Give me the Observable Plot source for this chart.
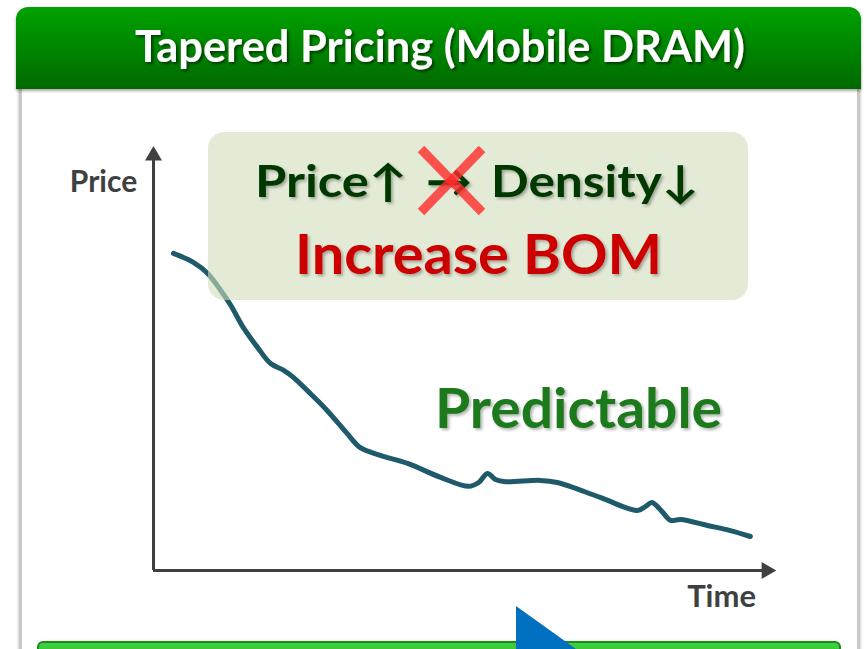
<!DOCTYPE html>
<html><head><meta charset="utf-8">
<script src="https://cdn.jsdelivr.net/npm/d3@7"></script>
<script src="https://cdn.jsdelivr.net/npm/@observablehq/plot@0.6"></script>
<style>
body{margin:0;width:866px;height:649px;overflow:hidden;background:#fff;position:relative;font-family:Lato,"Open Sans",sans-serif}
.abs{position:absolute}
#panel{left:19px;top:60px;width:835px;height:620px;border:3px solid #c9c9c9;border-radius:6px;background:#fff;box-shadow:0 0 3px rgba(0,0,0,.35)}
#header{left:16px;top:7px;width:845px;height:82px;border-radius:12px 12px 0 0;background:linear-gradient(#00a200,#006900);box-shadow:0 2px 3px rgba(0,0,0,.35)}
#bottombar{left:37px;top:641px;width:800px;height:30px;border:2px solid #1a8a1a;border-radius:6px;background:linear-gradient(#40d040,#20b020)}
#chart{left:0;top:0}
#overlay{left:0;top:0}
</style></head>
<body>
<div id="panel" class="abs"></div>
<div id="header" class="abs"></div>
<div id="bottombar" class="abs"></div>
<div id="chart" class="abs"></div>
<svg id="overlay" class="abs" width="866" height="649"></svg>
<script>
// Data (time index, relative price)
const time  = [3.2, 6.4, 8.7, 10.8, 12.4, 14.4, 16.7, 18.8, 20.9, 22.5, 25.2, 27.9, 31.1, 33.2, 36.4, 40.8, 46.1, 50.6, 52.2, 53.6, 54.9, 56.5, 62.1, 64.8, 71.7, 77.7, 79.0, 80.0, 81.5, 83.0, 84.6, 88.9, 92.6, 95.8];
const price = [74.6, 72.5, 69.9, 65.9, 62.4, 57.2, 52.5, 48.7, 47.1, 45.4, 41.6, 37.6, 32.2, 28.9, 27.1, 25.2, 21.9, 19.8, 20.7, 22.8, 21.4, 20.9, 21.2, 20.7, 17.2, 14.1, 15.1, 16.0, 14.1, 11.8, 12.0, 10.6, 9.4, 8.0];
const axisLabels = ["Price", "Time"];
const titleText = "Tapered Pricing (Mobile DRAM)";
const boxLine1 = ["Price↑", "→", "Density↓"];
const boxLine2 = "Increase BOM";
const noteText = "Predictable";

const series = time.map((t, i) => ({t, p: price[i]}));
const axisEnds = [{t: 98.4, p: 0, rot: 90}, {t: 0, p: 97.6, rot: 0}];

const chart = Plot.plot({
  width: 866, height: 649, margin: 0,
  x: {domain: [0, 100], range: [153, 776], axis: null},
  y: {domain: [0, 100], range: [570, 145], axis: null},
  style: {background: "transparent"},
  marks: [
    Plot.ruleY([0], {x1: 0, x2: 98, stroke: "#404040", strokeWidth: 3}),
    Plot.ruleX([0], {y1: 0, y2: 97, stroke: "#404040", strokeWidth: 3}),
    Plot.dot(axisEnds, {x: "t", y: "p", symbol: "triangle", r: 6.3, rotate: "rot", fill: "#404040", stroke: "none"}),
    Plot.line(series, {x: "t", y: "p", curve: "catmull-rom", stroke: "#1e5a6a", strokeWidth: 5}),
    Plot.text([axisLabels[0]], {x: 0, y: 97.6, dx: -50, dy: 27, text: d => d, fontSize: 30, fontWeight: "bold", fill: "#404040", fontFamily: "Lato"}),
    Plot.text([axisLabels[1]], {x: 97.6, y: 0, dx: -40, dy: 27, text: d => d, fontSize: 31, fontWeight: "bold", fill: "#404040", fontFamily: "Lato"})
  ]
});
document.getElementById("chart").appendChild(chart);

const svg = d3.select("#overlay");
const defs = svg.append("defs");
const f = defs.append("filter").attr("id", "sh").attr("x", "-10%").attr("y", "-30%").attr("width", "130%").attr("height", "170%");
f.append("feDropShadow").attr("dx", 2).attr("dy", 2).attr("stdDeviation", 1.5).attr("flood-color", "#000").attr("flood-opacity", 0.3);
const f2 = defs.append("filter").attr("id", "sh2").attr("x", "-10%").attr("y", "-30%").attr("width", "130%").attr("height", "170%");
f2.append("feDropShadow").attr("dx", 2).attr("dy", 2).attr("stdDeviation", 1.5).attr("flood-color", "#000").attr("flood-opacity", 0.55);

// title
svg.append("text").attr("x", 440).attr("y", 62).attr("text-anchor", "middle")
  .attr("textLength", 610).attr("lengthAdjust", "spacingAndGlyphs")
  .attr("font-family", "Lato").attr("font-weight", "bold").attr("font-size", 44)
  .attr("fill", "#fff").attr("filter", "url(#sh2)").text(titleText);

// box over the curve
svg.append("rect").attr("x", 208).attr("y", 132).attr("width", 540).attr("height", 168).attr("rx", 16)
  .attr("fill", "rgb(208,222,187)").attr("fill-opacity", 0.6);

const g1 = svg.append("g").attr("font-family", "Lato").attr("font-weight", "bold").attr("fill", "#053805").attr("filter", "url(#sh)");
g1.append("text").attr("x", 255).attr("y", 197).attr("font-size", 44).attr("textLength", 152).attr("lengthAdjust", "spacingAndGlyphs").text(boxLine1[0]);
g1.append("text").attr("x", 426).attr("y", 197).attr("font-size", 44).attr("textLength", 46).attr("lengthAdjust", "spacingAndGlyphs").text(boxLine1[1]);
g1.append("text").attr("x", 491).attr("y", 197).attr("font-size", 44).attr("textLength", 208).attr("lengthAdjust", "spacingAndGlyphs").text(boxLine1[2]);

// red cross over the arrow
svg.append("g").attr("stroke", "#ff2a2a").attr("stroke-opacity", 0.8).attr("stroke-width", 9)
  .selectAll("line").data([[421, 149, 482, 212], [482, 149, 421, 212]]).join("line")
  .attr("x1", d => d[0]).attr("y1", d => d[1]).attr("x2", d => d[2]).attr("y2", d => d[3]);

svg.append("text").attr("x", 295).attr("y", 274).attr("font-size", 56).attr("textLength", 367).attr("lengthAdjust", "spacingAndGlyphs")
  .attr("font-family", "Lato").attr("font-weight", "bold").attr("fill", "#cc0000").attr("filter", "url(#sh)").text(boxLine2);

svg.append("text").attr("x", 435).attr("y", 428).attr("font-size", 55).attr("textLength", 287).attr("lengthAdjust", "spacingAndGlyphs")
  .attr("font-family", "Lato").attr("font-weight", "bold").attr("fill", "#1f7a1f").attr("filter", "url(#sh)").text(noteText);

// blue pointer triangle
svg.append("path").attr("d", "M516,606 L576,649 L516,649 Z").attr("fill", "#0070c0");
</script>
</body></html>
